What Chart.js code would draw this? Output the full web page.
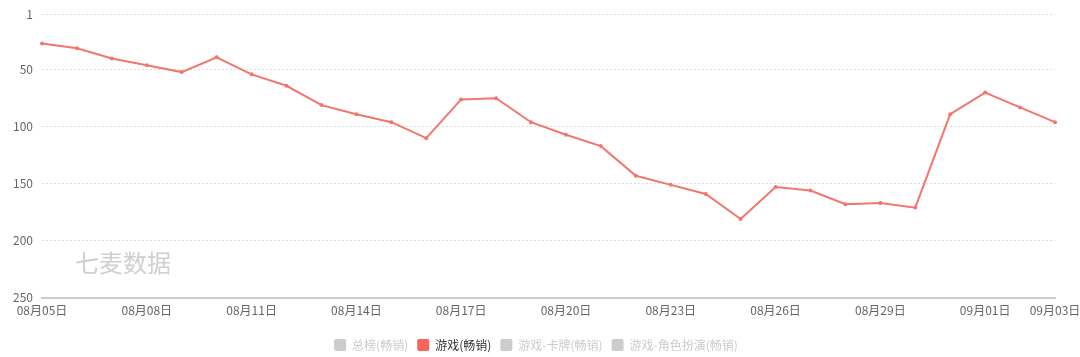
<!DOCTYPE html>
<html>
<head>
<meta charset="utf-8">
<script src="https://cdn.jsdelivr.net/npm/chart.js@4/dist/chart.umd.min.js"></script>
<style>
html,body{margin:0;padding:0;background:#fff;}
#wrap{width:1080px;height:357px;position:relative;}
</style>
</head>
<body>
<div id="wrap"><canvas id="c"></canvas></div>
<script>
const categories = ["08月05日","08月06日","08月07日","08月08日","08月09日","08月10日","08月11日","08月12日","08月13日","08月14日","08月15日","08月16日","08月17日","08月18日","08月19日","08月20日","08月21日","08月22日","08月23日","08月24日","08月25日","08月26日","08月27日","08月28日","08月29日","08月30日","08月31日","09月01日","09月02日","09月03日"];
const gameRank = [27,31,40,46,52,39,54,64,81,89,96,110,76,75,96,107,117,143,151,159,181,153,156,168,167,171,89,70,83,96];
const seriesNames = ["总榜(畅销)","游戏(畅销)","游戏-卡牌(畅销)","游戏-角色扮演(畅销)"];
const yTicks = [1,50,100,150,200,250];
const xLabelIdx = [0,3,6,9,12,15,18,21,24,27,29];

const FONT = '"Microsoft YaHei","Noto Sans CJK SC",sans-serif';
const lineColor = '#f2766c';
const legendRed = '#f6645a';
const gray = '#cccccc';

const watermark = {
  id: 'watermark',
  beforeDatasetsDraw(chart) {
    const {ctx, chartArea} = chart;
    ctx.save();
    ctx.font = '24px ' + FONT;
    ctx.fillStyle = '#cfcfcf';
    ctx.textBaseline = 'alphabetic';
    ctx.fillText('七麦数据', chartArea.left + 33, chartArea.bottom - 26);
    ctx.restore();
  }
};

const legendPlace = {
  id: 'legendPlace',
  afterLayout(chart) {
    const lg = chart.legend;
    if (!lg) return;
    const dy = 330 - lg.top;
    lg.top += dy; lg.bottom += dy;
    const dx = 536 - (lg.left + lg.right) / 2;
    lg.left += dx; lg.right += dx;
  }
};

new Chart(document.getElementById('c'), {
  type: 'line',
  data: {
    labels: categories,
    datasets: [
      {label: seriesNames[0], data: [], hidden: true, borderColor: gray, backgroundColor: gray},
      {label: seriesNames[1], data: gameRank, borderColor: lineColor, backgroundColor: lineColor,
       borderWidth: 2, pointRadius: 2, pointHoverRadius: 3, pointBorderWidth: 0, tension: 0},
      {label: seriesNames[2], data: [], hidden: true, borderColor: gray, backgroundColor: gray},
      {label: seriesNames[3], data: [], hidden: true, borderColor: gray, backgroundColor: gray}
    ]
  },
  options: {
    responsive: true,
    maintainAspectRatio: false,
    animation: false,
    layout: {padding: {top: 14, right: 25, left: 0, bottom: 2}},
    plugins: {
      legend: {
        position: 'bottom',
        labels: {
          font: {family: FONT, size: 12},
          boxWidth: 12, boxHeight: 12, padding: 9,
          useBorderRadius: true, borderRadius: 2,
          generateLabels(chart) {
            return chart.data.datasets.map((ds, i) => {
              const vis = chart.isDatasetVisible(i);
              return {
                text: ds.label,
                fillStyle: vis ? legendRed : gray,
                strokeStyle: vis ? legendRed : gray,
                fontColor: vis ? '#333' : gray,
                lineWidth: 0,
                hidden: false,
                borderRadius: 2,
                datasetIndex: i
              };
            });
          }
        }
      },
      tooltip: {enabled: true}
    },
    scales: {
      x: {
        offset: false,
        afterFit(scale) { scale.paddingLeft = 0; scale.paddingRight = 0; },
        grid: {display: false, drawTicks: false},
        border: {display: true, color: '#cccccc', width: 2},
        ticks: {
          autoSkip: false, maxRotation: 0, minRotation: 0, padding: 6,
          color: '#666', font: {family: FONT, size: 12},
          callback(v, i) { return xLabelIdx.includes(i) ? categories[i] : ''; }
        }
      },
      y: {
        reverse: true,
        min: 1, max: 250,
        afterBuildTicks(scale) { scale.ticks = yTicks.map(v => ({value: v})); },
        afterFit(scale) { scale.width = 42; scale.paddingTop = 0; scale.paddingBottom = 0; },
        grid: {color: '#dddddd', lineWidth: 1, drawTicks: false},
        border: {display: false, dash: [2, 2]},
        ticks: {color: '#666', font: {family: FONT, size: 12}, padding: 9}
      }
    }
  },
  plugins: [watermark, legendPlace]
});
</script>
</body>
</html>
